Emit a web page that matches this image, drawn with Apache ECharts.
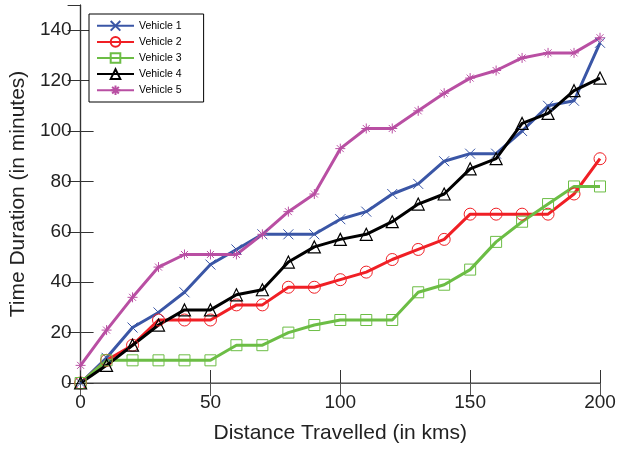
<!DOCTYPE html>
<html>
<head>
<meta charset="utf-8">
<script src="https://cdn.jsdelivr.net/npm/echarts@6/dist/echarts.min.js"></script>
<style>
  html, body { margin: 0; padding: 0; background: #fff; }
  #chart { width: 632px; height: 449px; }
</style>
</head>
<body>
<div id="chart"></div>
<script>
// distance travelled (km)
const distance = [0, 10, 20, 30, 40, 50, 60, 70, 80, 90, 100, 110, 120, 130, 140, 150, 160, 170, 180, 190, 200]

// time duration (minutes) per vehicle
const vehicle1 = [0, 10, 22, 28, 36, 47, 53, 59, 59, 59, 65, 68, 75, 79, 88, 91, 91, 100, 110, 112, 135]
const vehicle2 = [0, 9, 15, 25, 25, 25, 31, 31, 38, 38, 41, 44, 49, 53, 57, 67, 67, 67, 67, 75, 89]
const vehicle3 = [0, 9, 9, 9, 9, 9, 15, 15, 20, 23, 25, 25, 25, 36, 39, 45, 56, 64, 71, 78, 78]
const vehicle4 = [0, 7, 15, 23, 29, 29, 35, 37, 48, 54, 57, 59, 64, 71, 75, 85, 89, 103, 107, 116, 121]
const vehicle5 = [7, 21, 34, 46, 51, 51, 51, 59, 68, 75, 93, 101, 101, 108, 115, 121, 124, 129, 131, 131, 137]

const names = ['Vehicle 1', 'Vehicle 2', 'Vehicle 3', 'Vehicle 4', 'Vehicle 5']
const colors = ['#3a56a6', '#f01f25', '#6cbd45', '#000000', '#b94fa3']

const xMark = 'path://M0,0L10,10M0,10L10,0'
const starMark = 'path://M5,0L5,10M0,5L10,5M1.5,1.5L8.5,8.5M8.5,1.5L1.5,8.5'
const symbols = [xMark, 'circle', 'rect', 'triangle', starMark]
const sizes = [10, 12, 11, 12, 10]

const font = 'Liberation Sans'
const axisColor = '#333'

function makeSeries(i, data) {
  return {
    name: names[i],
    type: 'line',
    data: distance.map((d, k) => [d, data[k]]),
    symbol: symbols[i],
    symbolSize: sizes[i],
    showAllSymbol: true,
    color: colors[i],
    lineStyle: { color: colors[i], width: 3 },
    itemStyle: {
      color: 'rgba(0,0,0,0)',
      borderColor: colors[i],
      borderWidth: i == 3 ? 1.2 : 1
    },
    emphasis: { disabled: true },
    animation: false
  }
}

let chart = echarts.init(document.getElementById('chart'))
let option = {
  backgroundColor: '#fff',
  animation: false,
  textStyle: { fontFamily: font },
  grid: { left: 80, right: 32, top: 5, bottom: 66 },
  legend: {
    left: 89,
    top: 14,
    orient: 'vertical',
    itemWidth: 37,
    itemHeight: 12,
    itemGap: 4.5,
    padding: [6, 22, 6, 7],
    borderColor: '#000',
    borderWidth: 1,
    backgroundColor: '#fff',
    textStyle: { fontFamily: font, fontSize: 10.5, color: '#000' },
    data: names
  },
  xAxis: [
    {
      type: 'value', min: 0, max: 200, interval: 50,
      name: 'Distance Travelled (in kms)',
      nameLocation: 'middle',
      nameGap: 40,
      nameTextStyle: { fontFamily: font, fontSize: 21, color: '#222' },
      axisLine: { show: true, lineStyle: { color: '#808080', width: 1.5 } },
      axisTick: { show: true, inside: true, length: 13, lineStyle: { color: axisColor } },
      axisLabel: { fontFamily: font, fontSize: 19, color: '#222', margin: 10 },
      splitLine: { show: false }
    },
    {
      type: 'value', min: 0, max: 200, interval: 50, position: 'top',
      axisLine: { show: true, lineStyle: { color: '#555', width: 1.2 } },
      axisTick: { show: true, inside: true, length: 13, lineStyle: { color: '#555' } },
      axisLabel: { show: false },
      splitLine: { show: false }
    }
  ],
  yAxis: [
    {
      type: 'value', min: 0, max: 150, interval: 20,
      name: 'Time Duration (in minutes)',
      nameLocation: 'middle',
      nameGap: 47,
      nameTextStyle: { fontFamily: font, fontSize: 21, color: '#222' },
      axisLine: { show: true, lineStyle: { color: axisColor, width: 1.2 } },
      axisTick: { show: true, inside: true, length: 13, lineStyle: { color: axisColor } },
      axisLabel: { fontFamily: font, fontSize: 19, color: '#222', margin: 9, showMaxLabel: false },
      splitLine: { show: false }
    },
    {
      type: 'value', min: 0, max: 150, interval: 20, position: 'right',
      axisLine: { show: true, lineStyle: { color: axisColor, width: 1.2 } },
      axisTick: { show: true, inside: true, length: 13, lineStyle: { color: axisColor } },
      axisLabel: { show: false },
      splitLine: { show: false }
    }
  ],
  series: [
    makeSeries(0, vehicle1),
    makeSeries(1, vehicle2),
    makeSeries(2, vehicle3),
    makeSeries(3, vehicle4),
    makeSeries(4, vehicle5)
  ]
}
chart.setOption(option)
</script>
</body>
</html>
